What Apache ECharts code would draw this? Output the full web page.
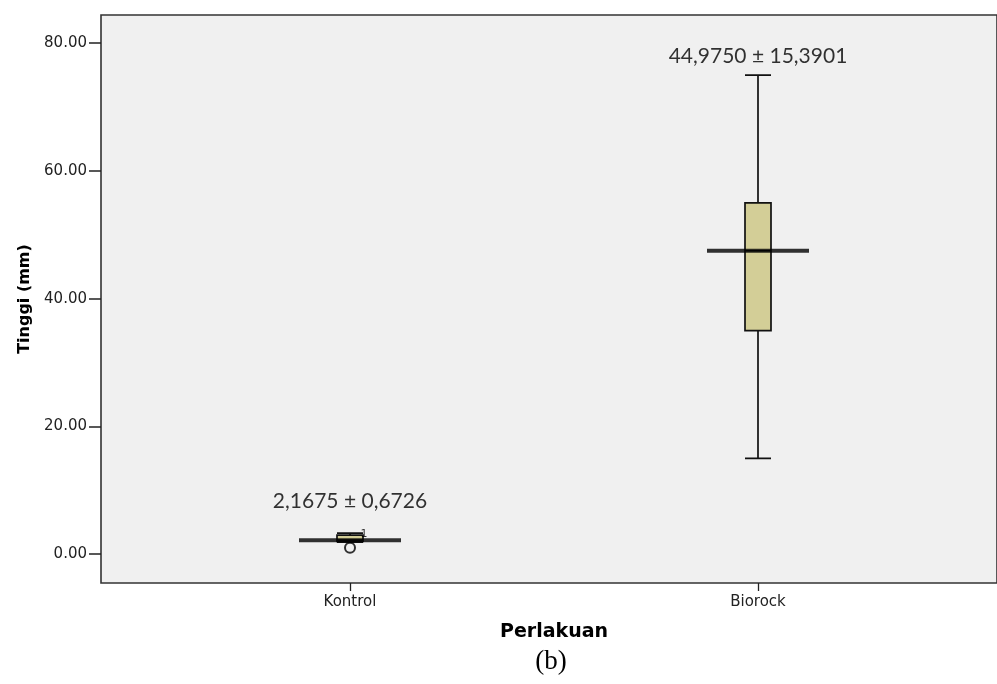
<!DOCTYPE html>
<html>
<head>
<meta charset="utf-8">
<script src="https://cdn.jsdelivr.net/npm/echarts@6/dist/echarts.min.js"></script>
<style>
  html, body { margin: 0; background: #fff; }
  #chart { width: 997px; height: 684px; }
</style>
</head>
<body>
<div id="chart"></div>
<script>
var categories = ['Kontrol', 'Biorock'];
// [min, Q1, median, Q3, max]
var boxValues = [
  [1.9, 2.0, 2.2, 3.0, 3.3],
  [15, 35, 47.5, 55, 75]
];
var medians = [2.2, 47.5];
var outliers = [['Kontrol', 1.0, '1']];
var summaryLabels = ['2,1675 ± 0,6726', '44,9750 ± 15,3901'];
var summaryY = [8.3, 78];
var yTicks = [0, 20, 40, 60, 80];

var chart = echarts.init(document.getElementById('chart'));

var option = {
  animation: false,
  backgroundColor: '#fff',
  title: {
    text: '(b)',
    left: 551,
    top: 648,
    textAlign: 'center',
    padding: 0,
    textStyle: { fontFamily: 'Liberation Serif', fontSize: 27, fontWeight: 'normal', color: '#000' }
  },
  grid: [
    // data area (categories placed as in the source)
    { left: 146, top: 15, width: 816, height: 568 },
    // plot frame
    { left: 101, top: 15, right: -12, height: 568, show: true,
      backgroundColor: '#f0f0f0', borderColor: '#333', borderWidth: 1.6 }
  ],
  xAxis: [
    {
      type: 'category',
      gridIndex: 0,
      data: categories,
      axisLine: { show: false, onZero: false },
      axisTick: { show: true, alignWithLabel: true, length: 8, lineStyle: { color: '#222', width: 1.3 } },
      axisLabel: { margin: 12, fontFamily: 'DejaVu Sans', fontSize: 15, color: '#222' },
      name: 'Perlakuan',
      nameLocation: 'middle',
      nameGap: 40,
      nameTextStyle: { fontFamily: 'DejaVu Sans', fontSize: 19, fontWeight: 'bold', color: '#000' }
    },
    { type: 'value', gridIndex: 1, show: false }
  ],
  yAxis: [
    {
      type: 'value',
      gridIndex: 0,
      min: -4.5,
      max: 84.4,
      offset: 45,
      splitLine: { show: false },
      axisLine: { show: false },
      axisTick: { show: true, length: 12, customValues: yTicks, lineStyle: { color: '#222', width: 1.5 } },
      axisLabel: {
        margin: 14,
        customValues: yTicks,
        fontFamily: 'DejaVu Sans',
        fontSize: 15,
        color: '#222',
        formatter: function (v) { return v.toFixed(2); }
      },
      name: 'Tinggi (mm)',
      nameLocation: 'middle',
      nameGap: 67,
      nameTextStyle: { fontFamily: 'DejaVu Sans', fontSize: 16, fontWeight: 'bold', color: '#000' }
    },
    { type: 'value', gridIndex: 1, show: false }
  ],
  series: [
    {
      type: 'boxplot',
      xAxisIndex: 0,
      yAxisIndex: 0,
      data: boxValues,
      boxWidth: [26, 26],
      z: 3,
      itemStyle: { color: '#d3ce97', borderColor: '#111', borderWidth: 1.7 }
    },
    {
      type: 'scatter',
      xAxisIndex: 0,
      yAxisIndex: 0,
      z: 4,
      symbol: 'rect',
      symbolSize: [102, 4],
      itemStyle: { color: '#000' },
      data: categories.map(function (c, i) { return [c, medians[i]]; })
    },
    {
      type: 'scatter',
      xAxisIndex: 0,
      yAxisIndex: 0,
      z: 5,
      symbol: 'circle',
      symbolSize: 10,
      itemStyle: { color: 'rgba(0,0,0,0)', borderColor: '#000', borderWidth: 2 },
      label: {
        show: true,
        formatter: function (p) { return p.data[2]; },
        position: 'inside',
        offset: [14, -14],
        fontFamily: 'DejaVu Sans',
        fontSize: 11,
        color: '#000'
      },
      data: outliers
    },
    {
      type: 'scatter',
      xAxisIndex: 0,
      yAxisIndex: 0,
      z: 6,
      symbolSize: 0,
      silent: true,
      label: {
        show: true,
        position: 'inside',
        formatter: function (p) { return summaryLabels[p.dataIndex]; },
        fontFamily: 'Lato',
        fontSize: 21,
        color: '#000'
      },
      data: categories.map(function (c, i) { return [c, summaryY[i]]; })
    }
  ]
};

chart.setOption(option);
</script>
</body>
</html>
